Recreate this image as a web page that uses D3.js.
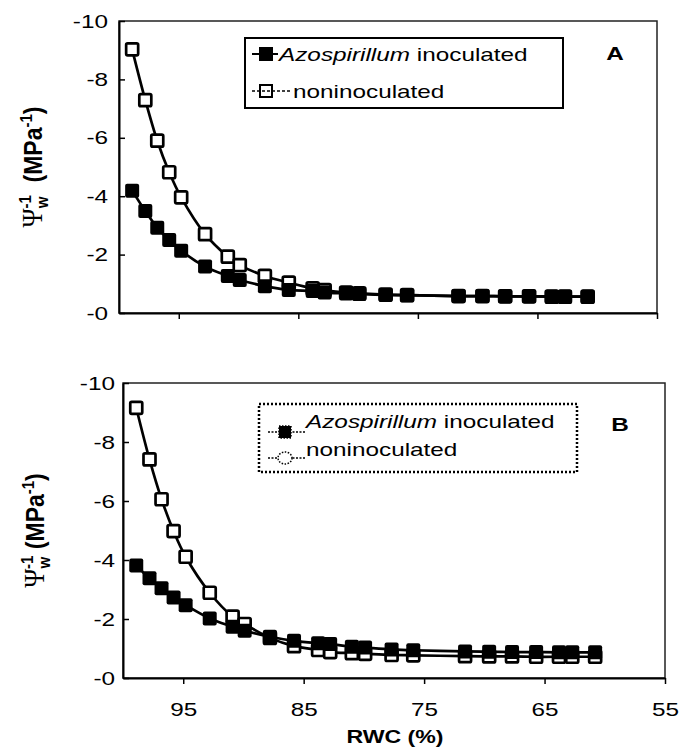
<!DOCTYPE html>
<html>
<head>
<meta charset="utf-8">
<script src="https://cdn.jsdelivr.net/npm/d3@7"></script>
<style>
  body { margin: 0; background: #fff; }
  svg { display: block; font-family: "Liberation Sans", Arial, sans-serif; }
</style>
</head>
<body>
<svg id="chart" width="694" height="749"></svg>
<script>
// RWC (%) values shared by both panels
const rwc = [98.9, 97.8, 96.8, 95.8, 94.8, 92.8, 90.9, 89.9, 87.8, 85.8, 83.8, 82.8,
             81.0, 79.9, 77.7, 75.9, 71.6, 69.6, 67.7, 65.7, 63.8, 62.7, 60.8];

// panel A, magnitude of inverse water potential (plotted on a "-" axis)
const inocA = [4.19, 3.49, 2.92, 2.50, 2.13, 1.59, 1.27, 1.13, 0.92, 0.79, 0.75, 0.70,
               0.67, 0.65, 0.62, 0.61, 0.58, 0.58, 0.57, 0.57, 0.56, 0.56, 0.56];
const noninA = [9.03, 7.29, 5.90, 4.82, 3.96, 2.70, 1.93, 1.64, 1.27, 1.04, 0.84, 0.78,
                0.70, 0.67, 0.63, 0.61, 0.58, 0.58, 0.57, 0.57, 0.56, 0.56, 0.56];

// panel B
const inocB = [3.81, 3.38, 3.04, 2.73, 2.47, 2.02, 1.74, 1.60, 1.40, 1.26, 1.18, 1.15,
               1.06, 1.03, 0.97, 0.94, 0.90, 0.89, 0.88, 0.88, 0.87, 0.87, 0.87];
const noninB = [9.16, 7.41, 6.06, 4.98, 4.11, 2.89, 2.08, 1.83, 1.36, 1.08, 0.95, 0.88,
                0.84, 0.82, 0.78, 0.77, 0.74, 0.73, 0.73, 0.72, 0.72, 0.72, 0.72];

const xTicks = [95, 85, 75, 65, 55];
const yTicks = [0, 2, 4, 6, 8, 10];
const seriesNames = ["Azospirillum", " inoculated", "noninoculated"];

const svg = d3.select("#chart");
const K = 1.28; // the original lettering is stretched sideways

function panel(cfg) {
    const x = d3.scaleLinear().domain([100, 55]).range([cfg.left, cfg.right]);
    const y = d3.scaleLinear().domain([0, 10]).range([cfg.bottom, cfg.top]);
    const g = svg.append("g");

    // plot frame
    g.append("rect")
        .attr("x", cfg.left).attr("y", cfg.top)
        .attr("width", cfg.right - cfg.left).attr("height", cfg.bottom - cfg.top)
        .attr("fill", "none").attr("stroke", "#222").attr("stroke-width", 1.5);

    const yAxis = g.append("g")
        .attr("transform", `translate(${cfg.left},0)`)
        .call(d3.axisLeft(y).tickValues(yTicks).tickFormat(d => "-" + d)
            .tickSizeInner(-6).tickSizeOuter(0).tickPadding(cfg.yPad));
    yAxis.selectAll("text")
        .attr("x", -cfg.yPad / K)
        .attr("transform", `scale(${K},1)`);

    const xAxis = g.append("g")
        .attr("transform", `translate(0,${cfg.bottom})`)
        .call(d3.axisBottom(x).tickValues(xTicks)
            .tickFormat(cfg.xLabels ? d3.format("d") : () => "")
            .tickSizeInner(6).tickSizeOuter(0).tickPadding(19));
    xAxis.selectAll("text").attr("transform", `scale(${K},1)`);

    [yAxis, xAxis].forEach(a => {
        a.selectAll("text").attr("font-size", 19).attr("fill", "#000")
            .attr("font-family", "Liberation Sans, Arial, sans-serif");
        a.selectAll("line").attr("stroke", "#000").attr("stroke-width", 1.5);
        a.select(".domain").attr("stroke", "#000").attr("stroke-width", 2);
    });

    const line = d3.line()
        .x((d, i) => x(rwc[i]))
        .y(d => y(d))
        .curve(d3.curveCatmullRom.alpha(0.5));

    [cfg.nonin, cfg.inoc].forEach(vals => {
        g.append("path").datum(vals)
            .attr("d", line)
            .attr("fill", "none").attr("stroke", "#000").attr("stroke-width", 2.7);
    });

    // open squares first, filled on top
    g.selectAll(".open").data(cfg.nonin).enter().append("rect")
        .attr("x", (d, i) => x(rwc[i]) - 6).attr("y", d => y(d) - 6)
        .attr("width", 12).attr("height", 12).attr("rx", 1.5)
        .attr("fill", "#fff").attr("stroke", "#000").attr("stroke-width", 2.7);
    g.selectAll(".filled").data(cfg.inoc).enter().append("rect")
        .attr("x", (d, i) => x(rwc[i]) - 7).attr("y", d => y(d) - 7)
        .attr("width", 14).attr("height", 14).attr("rx", 2)
        .attr("fill", "#000");

    // panel letter
    g.append("text")
        .attr("transform", `translate(${cfg.letterX},${cfg.letterY}) scale(${K},1)`)
        .attr("text-anchor", "middle").attr("font-size", 19).attr("font-weight", "bold")
        .text(cfg.letter);

    // y axis title
    const yt = g.append("text")
        .attr("transform", `translate(${cfg.titleX},${(cfg.top + cfg.bottom) / 2}) rotate(-90) scale(1,1.15)`)
        .attr("text-anchor", "middle").attr("font-size", 23).attr("font-weight", "bold");
    yt.append("tspan").attr("font-family", "Liberation Serif, Times New Roman, serif")
        .attr("font-weight", "normal").attr("font-size", 26).text("\u03A8");
    yt.append("tspan").attr("font-size", 15).attr("dy", 5).text("w");
    yt.append("tspan").attr("font-size", 15).attr("dx", -12).attr("dy", -15).text("-1");
    yt.append("tspan").attr("dy", 10).attr("xml:space", "preserve").text(cfg.gap + "(MPa");
    yt.append("tspan").attr("font-size", 15).attr("dy", -9).text("-1");
    yt.append("tspan").attr("dy", 9).text(")");

    return { x, y, g };
}

const pA = panel({
    left: 119, right: 657, top: 21, bottom: 313, yPad: 11, xLabels: false,
    inoc: inocA, nonin: noninA, letter: "A", letterX: 615, letterY: 60,
    titleX: 42, gap: "\u00A0\u00A0"
});
const pB = panel({
    left: 123, right: 665, top: 383, bottom: 678, yPad: 8, xLabels: true,
    inoc: inocB, nonin: noninB, letter: "B", letterX: 620, letterY: 431,
    titleX: 44, gap: "\u00A0"
});

// x axis title
svg.append("text")
    .attr("transform", `translate(395,743) scale(${K * 0.95},1)`)
    .attr("text-anchor", "middle").attr("font-size", 19).attr("font-weight", "bold")
    .text("RWC (%)");

function legendText(g, x, y, parts) {
    const t = g.append("text")
        .attr("transform", `translate(${x},${y}) scale(${K},1)`)
        .attr("font-size", 19);
    parts.forEach(p => t.append("tspan").attr("font-style", p.italic ? "italic" : null)
        .attr("xml:space", "preserve").text(p.text));
}

// legend A (solid frame)
const lgA = svg.append("g");
lgA.append("rect").attr("x", 245).attr("y", 38).attr("width", 318).attr("height", 70)
    .attr("fill", "#fff").attr("stroke", "#000").attr("stroke-width", 2);
lgA.append("line").attr("x1", 252).attr("x2", 278).attr("y1", 54).attr("y2", 54)
    .attr("stroke", "#000").attr("stroke-width", 2);
lgA.append("rect").attr("x", 259).attr("y", 47).attr("width", 14).attr("height", 14).attr("fill", "#000");
legendText(lgA, 279, 61, [{ text: seriesNames[0], italic: true }, { text: seriesNames[1] }]);
lgA.append("line").attr("x1", 252).attr("x2", 292).attr("y1", 91).attr("y2", 91)
    .attr("stroke", "#000").attr("stroke-width", 1.5).attr("stroke-dasharray", "3,2");
lgA.append("rect").attr("x", 260).attr("y", 85).attr("width", 12).attr("height", 12)
    .attr("fill", "none").attr("stroke", "#000").attr("stroke-width", 2);
legendText(lgA, 293, 98, [{ text: seriesNames[2] }]);

// legend B (dotted frame)
const lgB = svg.append("g");
lgB.append("rect").attr("x", 259).attr("y", 404).attr("width", 318).attr("height", 68)
    .attr("fill", "#fff").attr("stroke", "#000").attr("stroke-width", 2.5)
    .attr("stroke-dasharray", "2,2");
lgB.append("line").attr("x1", 268).attr("x2", 305).attr("y1", 432).attr("y2", 432)
    .attr("stroke", "#000").attr("stroke-width", 1.5).attr("stroke-dasharray", "2,1.5");
lgB.append("rect").attr("x", 279).attr("y", 426).attr("width", 12).attr("height", 12)
    .attr("fill", "#000").attr("stroke", "#000").attr("stroke-width", 1.5)
    .attr("stroke-dasharray", "1.5,1.5");
legendText(lgB, 306, 428, [{ text: seriesNames[0], italic: true }, { text: seriesNames[1] }]);
lgB.append("line").attr("x1", 268).attr("x2", 305).attr("y1", 458).attr("y2", 458)
    .attr("stroke", "#000").attr("stroke-width", 1.5).attr("stroke-dasharray", "2,1.5");
lgB.append("ellipse").attr("cx", 285).attr("cy", 458).attr("rx", 7).attr("ry", 6)
    .attr("fill", "#fff").attr("stroke", "#000").attr("stroke-width", 1.5)
    .attr("stroke-dasharray", "1.5,1.5");
legendText(lgB, 306, 456, [{ text: seriesNames[2] }]);
</script>
</body>
</html>
